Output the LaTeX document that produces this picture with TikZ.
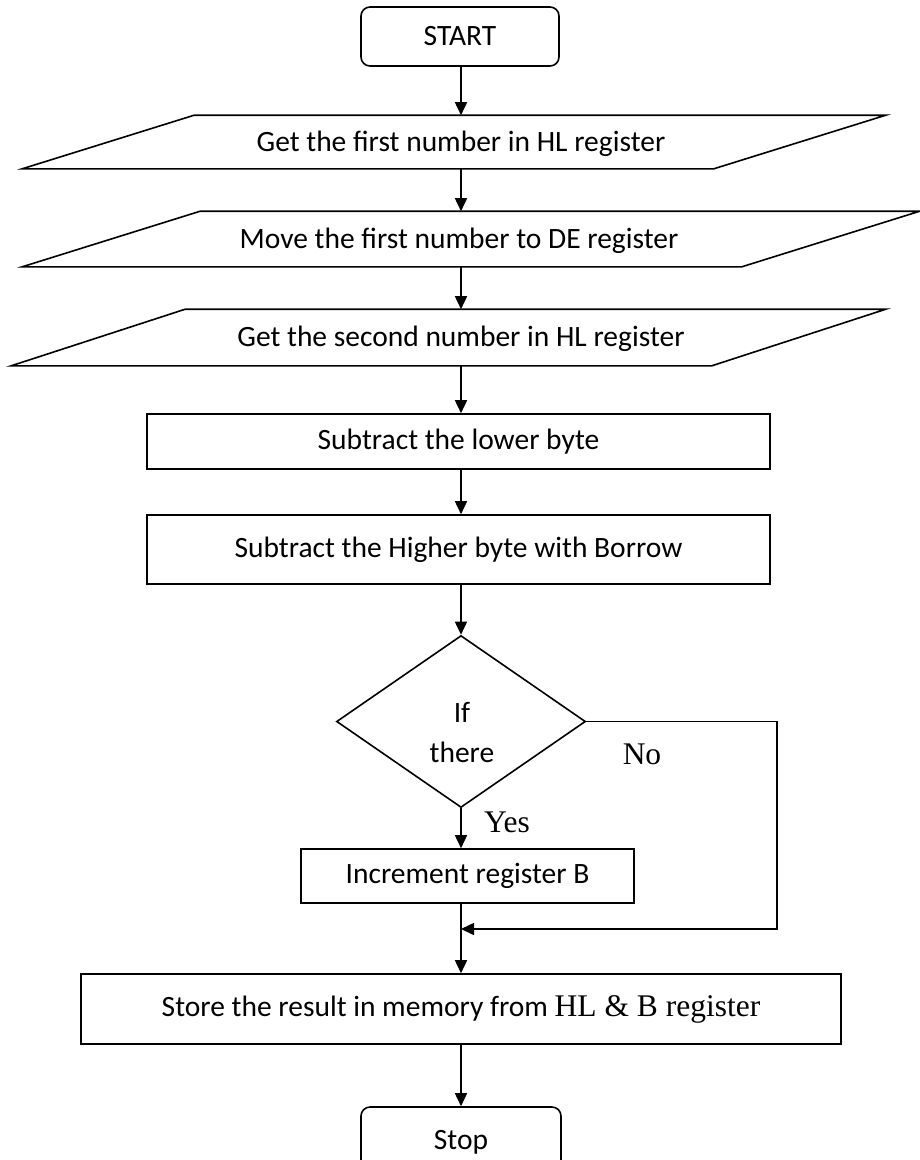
\documentclass[tikz,border=0pt]{standalone}
\usepackage{fontspec}
\setmainfont{Carlito}
\newfontfamily\timesfont{Liberation Serif}
\usetikzlibrary{shapes.geometric,arrows.meta,calc}
\newcommand\calsize{\fontsize{29.5}{34}\selectfont}
\newcommand\romsize{\timesfont\fontsize{31.5}{36}\selectfont}

\begin{document}
\begin{tikzpicture}[x=1pt,y=-1pt,
  line width=1.6pt,
  flow/.style={-{Triangle[width=12pt,length=13pt]}},
  box/.style={draw,rectangle,inner sep=0pt,font=\calsize},
  term/.style={draw,rectangle,rounded corners=9pt,inner sep=0pt,font=\calsize},
  ghost/.style={rectangle,inner sep=0pt},
  txt/.style={inner sep=0pt,font=\calsize},
  serif/.style={inner sep=0pt,font=\romsize}]

\useasboundingbox (0,0) rectangle (920,1160);
\clip (0,0) rectangle (920,1160);

% main column of the flow
\coordinate (col) at (461,0);

% terminals
\node[term, minimum width=198pt, minimum height=59pt] (start) at (460,36.5) {START};

% input/output parallelograms: frame node plus drawn outline
\node[ghost, minimum width=862pt, minimum height=52pt] (p1) at (454,142) {};
\draw ($(p1.north west)+(172,0)$) -- (p1.north east) -- ($(p1.south east)-(172,0)$) -- (p1.south west) -- cycle;
\node[txt] (t1) at (461,144) {Get the first number in HL register};

\node[ghost, minimum width=896pt, minimum height=54pt] (p2) at (471,239) {};
\draw ($(p2.north west)+(178,0)$) -- (p2.north east) -- ($(p2.south east)-(178,0)$) -- (p2.south west) -- cycle;
\node[txt] (t2) at (459,241) {Move the first number to DE register};

\node[ghost, minimum width=873pt, minimum height=55pt] (p3) at (448.5,337.5) {};
\draw ($(p3.north west)+(174,0)$) -- (p3.north east) -- ($(p3.south east)-(174,0)$) -- (p3.south west) -- cycle;
\node[txt] (t3) at (461,339) {Get the second number in HL register};

% process boxes
\node[box, minimum width=623pt, minimum height=55pt] (r1) at (458.5,441.5) {Subtract the lower byte};
\node[box, minimum width=623pt, minimum height=69pt] (r2) at (458.5,549.5) {Subtract the Higher byte with Borrow};

% decision
\node[draw, diamond, inner sep=0pt, minimum width=249pt, minimum height=172pt] (d) at (461,721.5) {};
\node[txt, align=center, font=\fontsize{29.5}{40}\selectfont] (dt) at (462,732) {If\\there};

\node[box, minimum width=333pt, minimum height=54pt] (inc) at (467.5,876) {Increment register B};
\coordinate (join) at (461,929);
\coordinate (nr) at (777,929);

\node[box, minimum width=760pt, minimum height=70pt] (store) at (461,1009)
  {Store the result in memory from {\romsize HL \& B register}};

\node[term, minimum width=200pt, minimum height=70pt] (stop) at (461,1142) {Stop};

% branch labels
\node[serif] (no) at (642,754) {No};
\node[serif] (yes) at (507,822) {Yes};

% connectors
\draw[flow] (col |- start.south) -- (col |- p1.north);
\draw[flow] (col |- p1.south) -- (col |- p2.north);
\draw[flow] (col |- p2.south) -- (col |- p3.north);
\draw[flow] (col |- p3.south) -- (col |- r1.north);
\draw[flow] (col |- r1.south) -- (col |- r2.north);
\draw[flow] (col |- r2.south) -- (d.north);
\draw[flow] (d.south) -- (col |- inc.north);
\draw (col |- inc.south) -- (join);
\draw[flow] (join) -- (col |- store.north);
\draw[flow] (d.east) -| (nr) -- (join);
\draw[flow] (col |- store.south) -- (col |- stop.north);
\end{tikzpicture}
\end{document}
